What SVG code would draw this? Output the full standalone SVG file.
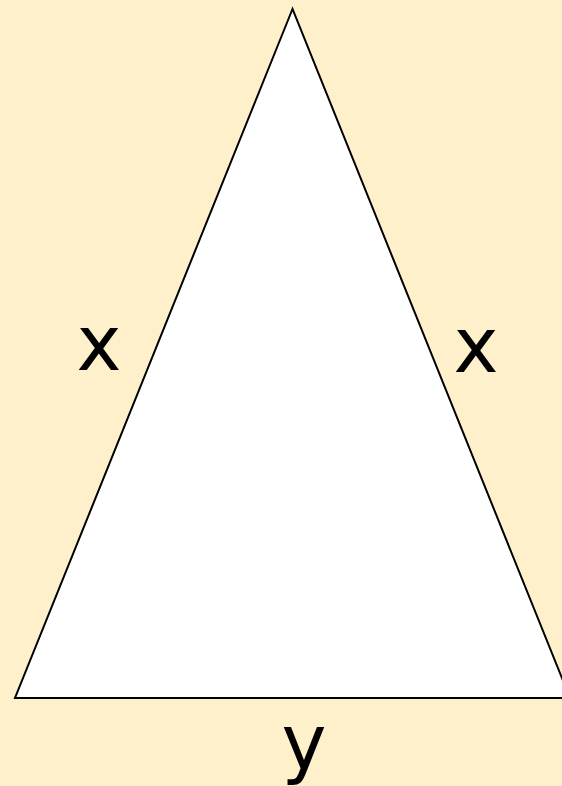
<svg xmlns="http://www.w3.org/2000/svg" width="562" height="786" viewBox="0 0 562 786">
<style>
.lbl{font-family:"DejaVu Sans",Verdana,sans-serif;font-size:76px;fill:#000;text-anchor:middle}
</style>
<rect x="0" y="0" width="562" height="786" fill="#FFF0CC"/>
<g id="triangle">
<polygon points="292.5,9 15,698 570,698" fill="#FFFFFF" stroke="#000" stroke-width="2"/>
</g>
<g id="labels">
<text class="lbl" x="99" y="370">x</text>
<text class="lbl" x="476" y="372">x</text>
<text class="lbl" x="304" y="769">y</text>
</g>
</svg>
